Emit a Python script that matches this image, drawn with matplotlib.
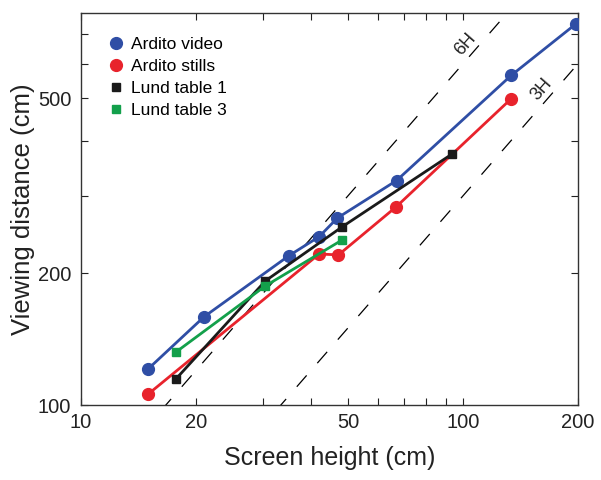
import matplotlib
matplotlib.use("Agg")
import matplotlib.pyplot as plt
import numpy as np
from matplotlib.ticker import FixedLocator, NullFormatter, FixedFormatter

plt.rcParams['font.family'] = ['Liberation Sans', 'DejaVu Sans']

# Ardito video
video_x = [15.0, 21.0, 35.0, 42.0, 46.9, 67.0, 133.6, 197.7]
video_y = [121, 159, 219, 242, 267, 325, 564, 740]

# Ardito stills
stills_x = [15.0, 42.0, 47.2, 66.8, 133.6]
stills_y = [106, 221, 220, 283, 499]

# Lund table 1
lund1_x = [17.7, 30.4, 48.3, 93.8]
lund1_y = [114.6, 192, 255, 374]

# Lund table 3
lund3_x = [17.7, 30.4, 48.3]
lund3_y = [132, 187, 238]

# viewing distance = k * screen height
ratios = [6, 3]
ratio_labels = ['6H', '3H']
ratio_label_pos = [(101.5, 665), (160, 523)]

xlim = (10, 200)
ylim = (100, 783)

fig = plt.figure(figsize=(6.01, 4.80), dpi=100)
ax = fig.add_axes([0.1348, 0.156, 0.827, 0.817])
ax.set_xscale('log')
ax.set_yscale('log')
ax.set_xlim(xlim)
ax.set_ylim(ylim)

# dashed reference lines
xs = np.array(xlim, dtype=float)
for k in ratios:
    ax.plot(xs, k * xs, color='black', lw=0.9, dashes=(12, 13), zorder=1)

# angle of the lines on screen
p0 = ax.transData.transform((20, 120))
p1 = ax.transData.transform((200, 1200))
angle = np.degrees(np.arctan2(p1[1] - p0[1], p1[0] - p0[0]))
for lab, (tx, ty) in zip(ratio_labels, ratio_label_pos):
    ax.text(tx, ty, lab, rotation=angle, ha='center', va='center',
            fontsize=13, color='#222222')

ax.plot(video_x, video_y, '-o', color='#2f4ea5', lw=2.0, ms=8.5,
        label='Ardito video', zorder=3)
ax.plot(stills_x, stills_y, '-o', color='#e8232c', lw=2.0, ms=8.5,
        label='Ardito stills', zorder=3)
ax.plot(lund1_x, lund1_y, '-s', color='#1a1a1a', lw=2.0, ms=6.2,
        label='Lund table 1', zorder=4)
ax.plot(lund3_x, lund3_y, '-s', color='#13a04b', lw=2.0, ms=6.2,
        label='Lund table 3', zorder=4)

handles, labels = ax.get_legend_handles_labels()
leg_handles = []
for h in handles:
    hh = plt.Line2D([], [], linestyle='none', marker=h.get_marker(),
                    color=h.get_color(), ms=h.get_markersize())
    leg_handles.append(hh)
ax.legend(leg_handles, labels, loc='upper left', frameon=False,
          fontsize=12.5, handlelength=0.8, handletextpad=0.5,
          labelspacing=0.4, borderaxespad=0.4, bbox_to_anchor=(0.028, 0.975))

ax.xaxis.set_major_locator(FixedLocator([10, 20, 50, 100, 200]))
ax.xaxis.set_major_formatter(FixedFormatter(['10', '20', '50', '100', '200']))
ax.xaxis.set_minor_locator(FixedLocator([30, 40, 60, 70, 80, 90]))
ax.xaxis.set_minor_formatter(NullFormatter())
ax.yaxis.set_major_locator(FixedLocator([100, 200, 500]))
ax.yaxis.set_major_formatter(FixedFormatter(['100', '200', '500']))
ax.yaxis.set_minor_locator(FixedLocator([300, 400, 600, 700]))
ax.yaxis.set_minor_formatter(NullFormatter())

ax.tick_params(which='both', direction='in', top=True, right=True,
               length=5, width=0.8, labelsize=14.5, colors='#222222')
ax.tick_params(axis='x', pad=6)
ax.tick_params(axis='y', pad=7)
for s in ax.spines.values():
    s.set_linewidth(1.0)
    s.set_color('#333333')

ax.set_xlabel('Screen height (cm)', fontsize=18, color='#222222', labelpad=10)
ax.set_ylabel('Viewing distance (cm)', fontsize=18.5, color='#222222', labelpad=2)

fig.savefig('out.png', dpi=100)
